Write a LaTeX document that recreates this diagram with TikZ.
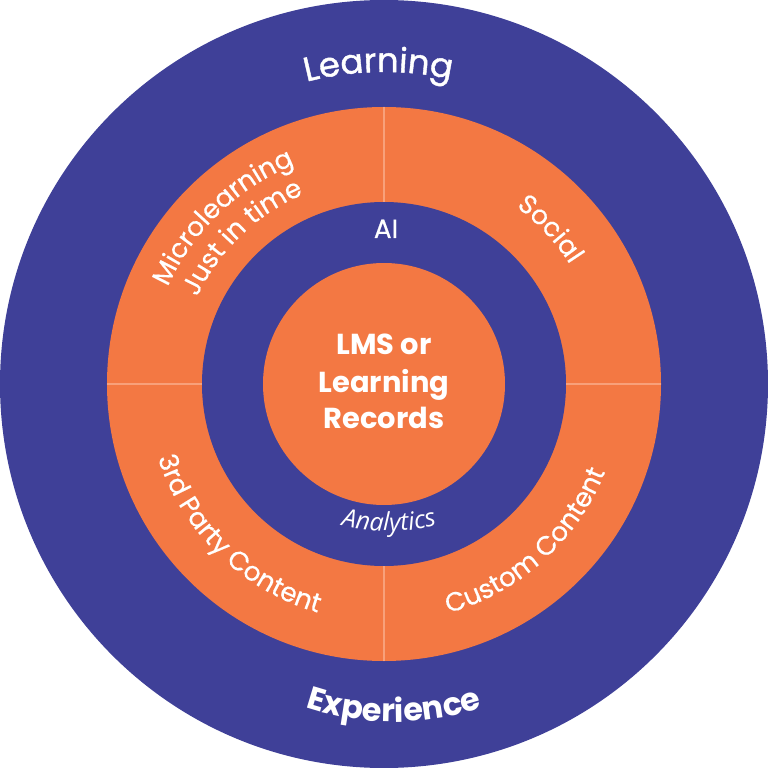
\documentclass[tikz,border=0pt]{standalone}
\usepackage{fontspec}
\setmainfont{Poppins}
\newfontfamily\rsMed{Poppins}[FakeBold=1.2]
\newfontfamily\rsRingF{Poppins}[FakeBold=0.4]
\newfontfamily\rsAna{Open Sans}
\usetikzlibrary{decorations.text,calc}
\definecolor{ringblue}{HTML}{3F4098}
\definecolor{ringorange}{HTML}{F37843}
\definecolor{divider}{HTML}{F8A07A}
\newcommand\rsTitle{\rsMed\fontsize{34}{40}\selectfont}
\newcommand\rsExp{\bfseries\fontsize{32}{38}\selectfont}
\newcommand\rsRing{\rsRingF\fontsize{26.5}{31}\selectfont}
\newcommand\rsCenter{\bfseries\fontsize{29}{36}\selectfont}
\newcommand\rsAnaF{\rsAna\itshape\fontsize{25}{30}\selectfont}
\tikzset{
  arctext/.style={decorate, decoration={text along path, text align=center, text color=white, text={#1}}},
  divline/.style={draw=divider, line width=1.5bp},
  centertext/.style={text=white, anchor=base, inner sep=0pt, font=\rsCenter},
}
\begin{document}
\begin{tikzpicture}[x=1bp,y=1bp]
\useasboundingbox (-384,-384) rectangle (384,384);
% rings
\fill[ringblue] (0,0) circle[radius=384];
\fill[ringorange] (0,0) circle[radius=277];
\fill[ringblue] (0,0) circle[radius=182];
\fill[ringorange] (0,0) circle[radius=121];
% dividers
\draw[divline] (0,182) -- (0,277);
\draw[divline] (0,-182) -- (0,-277);
\draw[divline] (-182,0) -- (-277,0);
\draw[divline] (182,0) -- (277,0);
% outer texts
\path[arctext={|\rsTitle|Learning}] (132:312) arc[start angle=132, end angle=50, radius=312];
\path[arctext={|\rsExp|Experience}] ($(10,-58)+(220:280)$) arc[start angle=220, end angle=320, radius=280];
% ring texts
\path[arctext={|\rsRing|Microlearning}] (168:237) arc[start angle=168, end angle=100, radius=237];
\path[arctext={|\rsRing|Just in time}] (168:206) arc[start angle=168, end angle=100, radius=206];
\path[arctext={|\rsRing|Social}] (76:221) arc[start angle=76, end angle=10, radius=221];
\path[arctext={|\rsRing|3rd Party Content}] (186:238) arc[start angle=186, end angle=266, radius=238];
\path[arctext={|\rsRing|Custom Content}] (272:238) arc[start angle=272, end angle=352, radius=238];
% inner ring
\node[text=white, anchor=base, inner sep=0pt, font=\rsRing] (ai) at (2,146) {AI};
\path[arctext={|\rsAnaF|Analytics}] ($(5,53)+(-117:200)$) arc[start angle=-117, end angle=-63, radius=200];
% center
\node[centertext] (c1) at (0,29) {LMS or};
\node[centertext] (c2) at (0,-8) {Learning};
\node[centertext] (c3) at (0,-44) {Records};
\end{tikzpicture}
\end{document}
